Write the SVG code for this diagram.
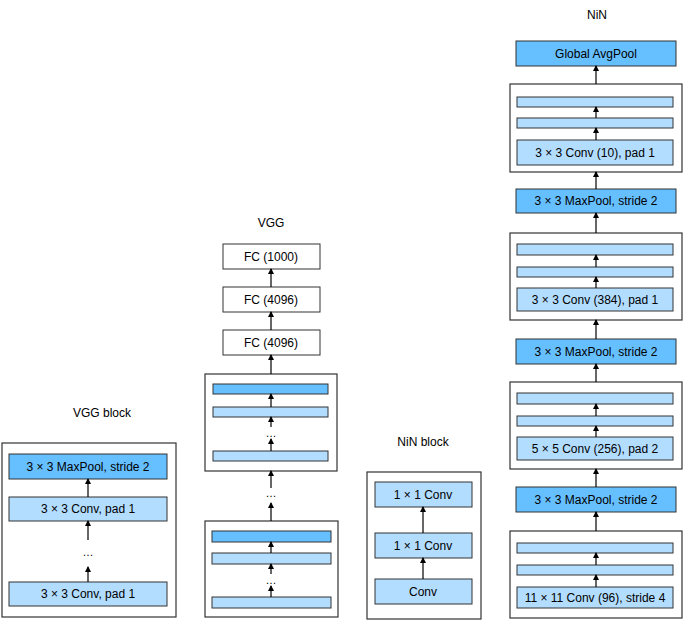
<svg xmlns="http://www.w3.org/2000/svg" width="683" height="620" viewBox="0 0 683 620">
<style>
text{font-family:"Liberation Sans",Arial,sans-serif;font-size:12px;fill:#000;text-anchor:middle;dominant-baseline:central}
.outer{fill:#fff;stroke:#333;stroke-width:1.2}
.dark{fill:#66BFFF;stroke:#333;stroke-width:1}
.light{fill:#B3DDFF;stroke:#333;stroke-width:1}
.white{fill:#fff;stroke:#333;stroke-width:1}
.arr{stroke:#000;stroke-width:1.2;fill:none;marker-end:url(#ah)}
.dots{font-size:11px}
</style>
<defs>
<marker id="ah" markerUnits="userSpaceOnUse" markerWidth="6" markerHeight="7" refX="5" refY="3" orient="auto">
<path d="M0,0 L6,3 L0,6 Z" fill="#000"/>
</marker>
</defs>
<rect width="683" height="620" fill="#fff"/>

<g id="titles">
<text x="102" y="413">VGG block</text>
<text x="271" y="223">VGG</text>
<text x="423" y="442">NiN block</text>
<text x="597" y="15">NiN</text>
</g>

<g id="vgg-block">
<rect class="outer" x="2" y="443" width="174" height="174"/>
<g id="vb-pool"><rect class="dark" x="9" y="454" width="158" height="25"/><text x="88" y="466.5">3 × 3 MaxPool, stride 2</text></g>
<g id="vb-conv2"><rect class="light" x="9" y="497" width="158" height="24"/><text x="88" y="509">3 × 3 Conv, pad 1</text></g>
<g id="vb-conv1"><rect class="light" x="9" y="582" width="158" height="24"/><text x="88" y="594">3 × 3 Conv, pad 1</text></g>
<text class="dots" x="88" y="552">…</text>
</g>

<g id="vgg">
<g id="fc3"><rect class="white" x="223" y="244" width="97" height="25"/><text x="271" y="256.5">FC (1000)</text></g>
<g id="fc2"><rect class="white" x="223" y="287" width="97" height="25"/><text x="271" y="299.5">FC (4096)</text></g>
<g id="fc1"><rect class="white" x="223" y="330" width="97" height="25"/><text x="271" y="342.5">FC (4096)</text></g>
<g id="vgg-b2">
<rect class="outer" x="205" y="374" width="132" height="97"/>
<rect class="dark" x="213" y="384" width="115" height="10"/>
<rect class="light" x="213" y="407" width="115" height="10"/>
<rect class="light" x="213" y="451" width="115" height="10"/>
<text class="dots" x="271" y="433">…</text>
</g>
<text class="dots" x="271" y="493">…</text>
<g id="vgg-b1">
<rect class="outer" x="205" y="521" width="133" height="96"/>
<rect class="dark" x="212" y="531" width="119" height="11"/>
<rect class="light" x="212" y="553" width="119" height="11"/>
<rect class="light" x="212" y="597" width="119" height="11"/>
<text class="dots" x="271" y="580">…</text>
</g>
</g>

<g id="nin-block">
<rect class="outer" x="367" y="472" width="114" height="147"/>
<g id="nb-c3"><rect class="light" x="375" y="482" width="97" height="25"/><text x="423" y="494.5">1 × 1 Conv</text></g>
<g id="nb-c2"><rect class="light" x="375" y="533" width="97" height="25"/><text x="423" y="545.5">1 × 1 Conv</text></g>
<g id="nb-c1"><rect class="light" x="375" y="579" width="97" height="25"/><text x="423" y="591.5">Conv</text></g>
</g>

<g id="nin">
<g id="gap"><rect class="dark" x="516" y="41" width="160" height="25"/><text x="596" y="53.5">Global AvgPool</text></g>
<g id="nin-b4">
<rect class="outer" x="510" y="84" width="172" height="88"/>
<rect class="light" x="517" y="97" width="156" height="10"/>
<rect class="light" x="517" y="118" width="156" height="10"/>
<rect class="light" x="517" y="140" width="156" height="25"/><text x="595" y="152.5">3 × 3 Conv (10), pad 1</text>
</g>
<g id="pool3"><rect class="dark" x="516" y="189" width="160" height="24"/><text x="596" y="201">3 × 3 MaxPool, stride 2</text></g>
<g id="nin-b3">
<rect class="outer" x="510" y="233" width="172" height="87"/>
<rect class="light" x="517" y="244" width="156" height="11"/>
<rect class="light" x="517" y="267" width="156" height="10"/>
<rect class="light" x="517" y="288" width="156" height="23"/><text x="595" y="299.5">3 × 3 Conv (384), pad 1</text>
</g>
<g id="pool2"><rect class="dark" x="516" y="339" width="160" height="25"/><text x="596" y="351.5">3 × 3 MaxPool, stride 2</text></g>
<g id="nin-b2">
<rect class="outer" x="510" y="382" width="172" height="87"/>
<rect class="light" x="517" y="393" width="156" height="11"/>
<rect class="light" x="517" y="416" width="156" height="10"/>
<rect class="light" x="517" y="437" width="156" height="23"/><text x="595" y="448.5">5 × 5 Conv (256), pad 2</text>
</g>
<g id="pool1"><rect class="dark" x="516" y="487" width="160" height="25"/><text x="596" y="499.5">3 × 3 MaxPool, stride 2</text></g>
<g id="nin-b1">
<rect class="outer" x="510" y="531" width="172" height="87"/>
<rect class="light" x="517" y="543" width="156" height="10"/>
<rect class="light" x="517" y="565" width="156" height="10"/>
<rect class="light" x="517" y="587" width="156" height="21"/><text x="595" y="597.5">11 × 11 Conv (96), stride 4</text>
</g>
</g>

<g id="connectors">
<line class="arr" x1="88" y1="497" x2="88" y2="479"/>
<line class="arr" x1="88" y1="540" x2="88" y2="521"/>
<line class="arr" x1="88" y1="582" x2="88" y2="567"/>

<line class="arr" x1="271" y1="287" x2="271" y2="269"/>
<line class="arr" x1="271" y1="330" x2="271" y2="312"/>
<line class="arr" x1="271" y1="374" x2="271" y2="355"/>
<line class="arr" x1="271" y1="407" x2="271" y2="394"/>
<line class="arr" x1="271" y1="427" x2="271" y2="417"/>
<line class="arr" x1="271" y1="451" x2="271" y2="439"/>
<line class="arr" x1="271" y1="488" x2="271" y2="471"/>
<line class="arr" x1="271" y1="521" x2="271" y2="503"/>
<line class="arr" x1="271" y1="553" x2="271" y2="542"/>
<line class="arr" x1="271" y1="574" x2="271" y2="564"/>
<line class="arr" x1="271" y1="597" x2="271" y2="586"/>

<line class="arr" x1="423" y1="533" x2="423" y2="507"/>
<line class="arr" x1="423" y1="579" x2="423" y2="558"/>

<line class="arr" x1="596" y1="84" x2="596" y2="66"/>
<line class="arr" x1="596" y1="118" x2="596" y2="107"/>
<line class="arr" x1="596" y1="140" x2="596" y2="128"/>
<line class="arr" x1="596" y1="189" x2="596" y2="172"/>
<line class="arr" x1="596" y1="233" x2="596" y2="213"/>
<line class="arr" x1="596" y1="267" x2="596" y2="255"/>
<line class="arr" x1="596" y1="288" x2="596" y2="277"/>
<line class="arr" x1="596" y1="339" x2="596" y2="320"/>
<line class="arr" x1="596" y1="382" x2="596" y2="364"/>
<line class="arr" x1="596" y1="416" x2="596" y2="404"/>
<line class="arr" x1="596" y1="437" x2="596" y2="426"/>
<line class="arr" x1="596" y1="487" x2="596" y2="469"/>
<line class="arr" x1="596" y1="531" x2="596" y2="512"/>
<line class="arr" x1="596" y1="565" x2="596" y2="553"/>
<line class="arr" x1="596" y1="587" x2="596" y2="575"/>
</g>
</svg>
